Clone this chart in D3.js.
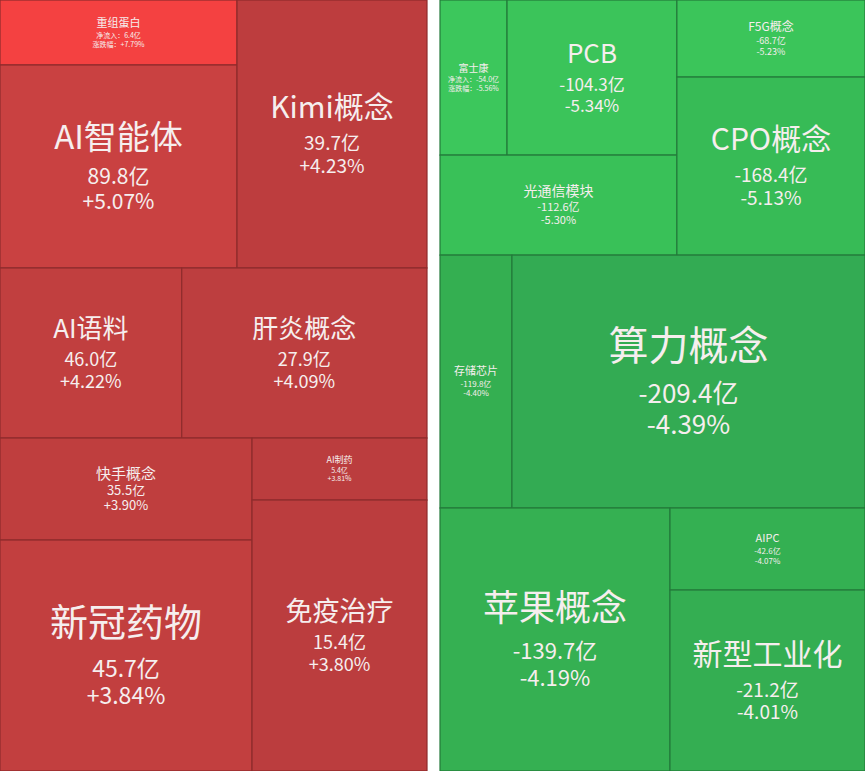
<!DOCTYPE html>
<html><head><meta charset="utf-8">
<script src="https://cdn.jsdelivr.net/npm/d3@7"></script>
<style>body{margin:0;background:#fff}svg{display:block}</style>
</head><body>
<script>
'use strict'

// left panel (inflow), nested: band -> column -> leaf
const upNames = [[['重组蛋白', 'AI智能体'], ['Kimi概念']], ['AI语料', '肝炎概念'], [['快手概念', '新冠药物'], ['AI制药', '免疫治疗']]]
const upFlow = [[[6.4, 89.8], [39.7]], [46.0, 27.9], [[35.5, 45.7], [5.4, 15.4]]]
const upPct = [[[7.79, 5.07], [4.23]], [4.22, 4.09], [[3.90, 3.84], [3.81, 3.80]]]
// cell area weights
const upArea = [[[15400, 48100], [50900]], [30900, 41700], [[25700, 58200], [10850, 47400]]]

// right panel (outflow)
const dnNames = [[[['富士康', 'PCB'], ['光通信模块']], ['F5G概念', 'CPO概念']], ['存储芯片', '算力概念'], [['苹果概念'], ['AIPC', '新型工业化']]]
const dnFlow = [[[[-54.0, -104.3], [-112.6]], [-68.7, -168.4]], [-119.8, -209.4], [[-139.7], [-42.6, -21.2]]]
const dnPct = [[[[-5.56, -5.34], [-5.30]], [-5.23, -5.13]], [-4.40, -4.39], [[-4.19], [-4.07, -4.01]]]
const dnArea = [[[[10400, 26350], [23700]], [14500, 33500]], [18200, 89300], [[60500], [16000, 35300]]]

// per-cell styling: [title px, value px, fill, long label]
const style = {
  重组蛋白: [11, 7, '#f44141', true], AI智能体: [33, 21, '#c94141'], Kimi概念: [30, 19, '#bd3d3e'],
  AI语料: [26, 18, '#c13f3f'], 肝炎概念: [26, 18, '#bd3e3f'], 快手概念: [15, 13, '#bf3e3e'],
  新冠药物: [38, 23, '#c23f3f'], AI制药: [9, 7, '#bb3d3e'], 免疫治疗: [27, 18, '#bb3d3e'],
  富士康: [10, 7, '#3cc75c', true], PCB: [26, 17, '#3bc45a'], 光通信模块: [14, 11, '#39c158'],
  F5G概念: [12, 9, '#3bc55a'], CPO概念: [30, 19, '#37bb56'], 存储芯片: [11, 8, '#34af51'],
  算力概念: [40, 26, '#33ab53'], 苹果概念: [36, 22, '#35b052'], AIPC: [11, 8, '#34b052'], 新型工业化: [30, 19, '#34ae52']
}

const W = 865
const H = 771
const svg = d3.select('body').append('svg').attr('width', W).attr('height', H)

function build (names, flow, pct, area) {
  if (Array.isArray(names)) {
    return { children: names.map((n, i) => build(n, flow[i], pct[i], area[i])) }
  }
  return { name: names, flow, pct, value: area }
}

// rows at even depth, columns at odd depth
function tile (node, x0, y0, x1, y1) {
  (node.depth % 2 === 0 ? d3.treemapSlice : d3.treemapDice)(node, x0, y0, x1, y1)
}

function fmt (v, d) { return (v > 0 ? '+' : '') + v.toFixed(d) }

function drawPanel (data, x0, x1) {
  const root = d3.hierarchy(data).sum(d => d.value || 0)
  d3.treemap().tile(tile).size([x1 - x0, H]).round(false)(root)
  const g = svg.append('g').attr('transform', `translate(${x0},0)`)
  const leaf = g.selectAll('g').data(root.leaves()).join('g')
    .attr('transform', d => `translate(${d.x0},${d.y0})`)
  leaf.append('rect')
    .attr('width', d => d.x1 - d.x0).attr('height', d => d.y1 - d.y0)
    .attr('fill', d => style[d.data.name][2])
    .attr('stroke', d => d.data.flow > 0 ? '#8e2b2c' : '#237a3a').attr('stroke-width', 1.2)
  leaf.each(function (d) {
    const [ts, vs, , long] = style[d.data.name]
    const cx = (d.x1 - d.x0) / 2
    const cy = (d.y1 - d.y0) / 2
    const g = d3.select(this)
    const y1 = ts * 1.0 + vs * 0.1
    const y2 = y1 + vs * 1.2
    const top = cy - (y2 + vs * 0.2) / 2 + ts * 0.45
    const lines = [
      [0, ts, d.data.name],
      [y1, vs, (long ? '净流入：' : '') + d.data.flow.toFixed(1) + '亿'],
      [y2, vs, (long ? '涨跌幅：' : '') + fmt(d.data.pct, 2) + '%']
    ]
    g.selectAll('text').data(lines).join('text')
      .attr('x', cx).attr('y', l => top + l[0])
      .attr('text-anchor', 'middle')
      .attr('fill', '#f6eeee')
      .attr('font-family', 'Noto Sans CJK SC, Noto Sans, sans-serif')
      .attr('font-size', l => l[1])
      .text(l => l[2])
  })
}

drawPanel(build(upNames, upFlow, upPct, upArea), 0, 427)
drawPanel(build(dnNames, dnFlow, dnPct, dnArea), 440, 865)
</script>
</body></html>
